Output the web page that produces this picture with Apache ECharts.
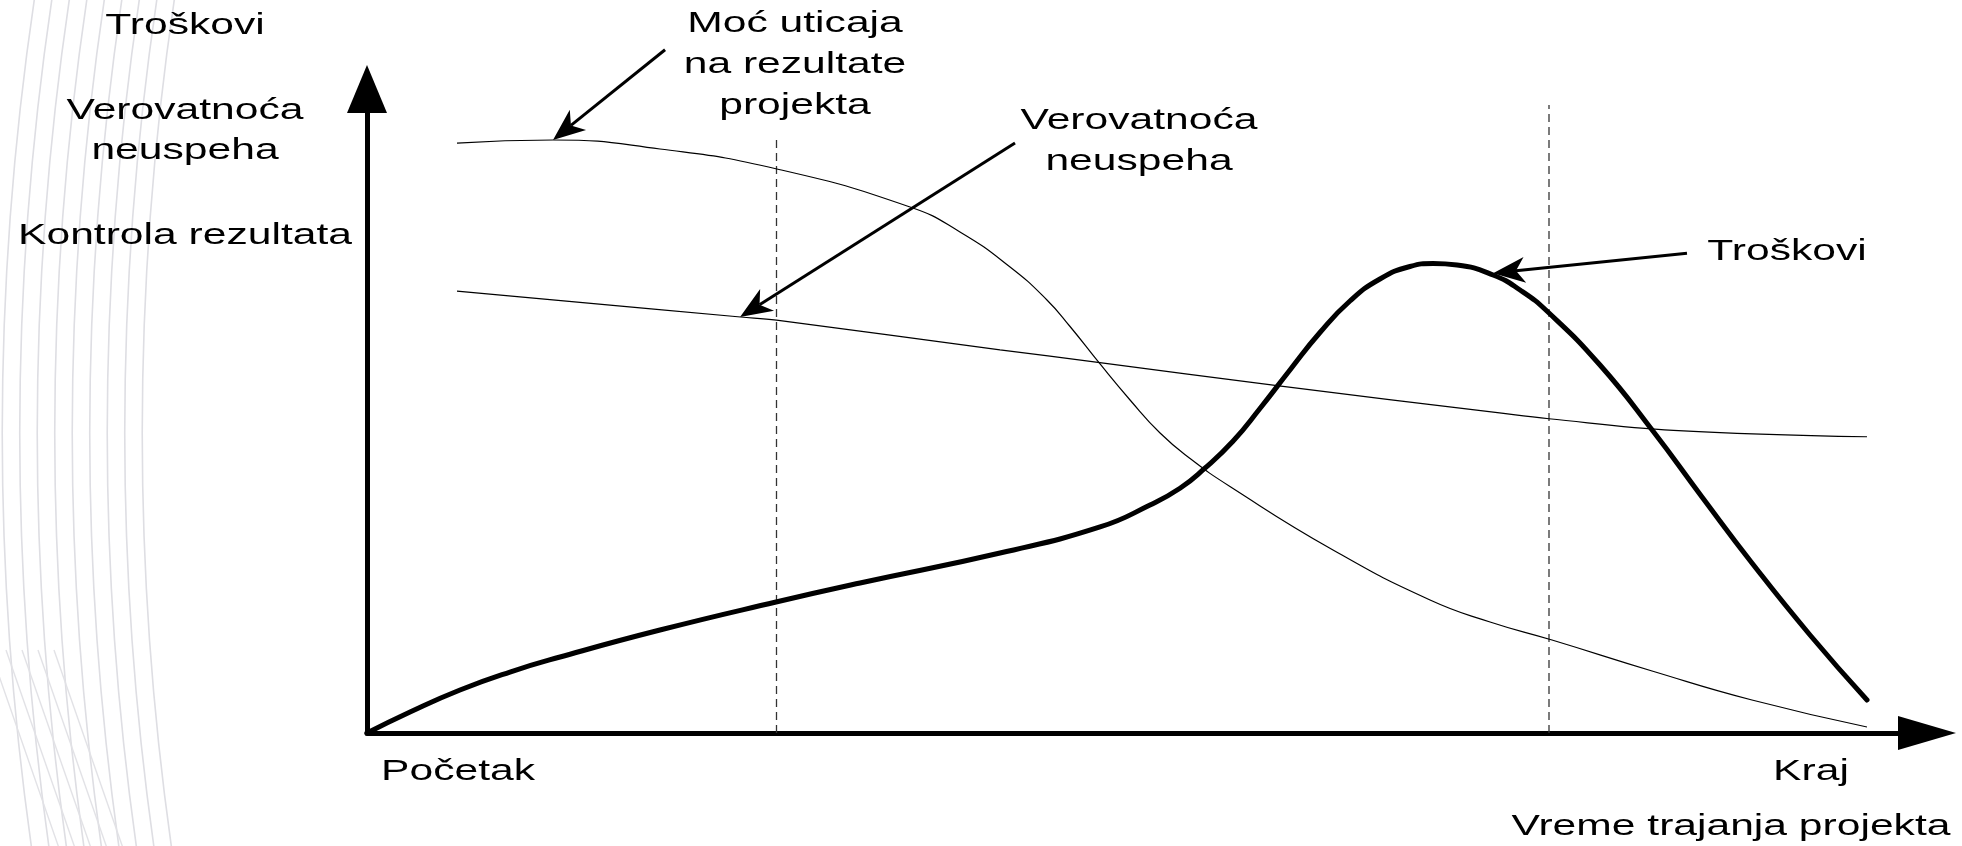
<!DOCTYPE html>
<html><head><meta charset="utf-8">
<script src="https://cdn.jsdelivr.net/npm/echarts@6/dist/echarts.min.js"></script>
<style>html,body{margin:0;padding:0;background:#fff}#c{width:1962px;height:846px}</style>
</head><body><div id="c"></div>
<script>
// x: project time (0 = Početak, 100 = Kraj); y: relative level (0..100)
const influenceX = [6.0, 12.4, 19.53, 27.33, 36.2, 39.53, 42.87, 45.33, 46.87, 48.87, 50.87, 52.87, 54.87, 57.53, 64.4, 70.87, 74.87, 79.0, 85.67, 92.33, 100];
const influenceY = [91.61, 92.08, 90.68, 87.58, 81.68, 77.8, 72.36, 67.24, 63.12, 57.3, 51.71, 46.58, 42.62, 38.28, 28.42, 20.65, 17.24, 14.44, 9.63, 5.12, 0.93];
const failureX = [6.0, 24.9, 27.3, 42.2, 48.6, 60.8, 75.5, 78.8, 87.1, 100];
const failureY = [68.6, 64.6, 64.1, 59.5, 57.6, 53.9, 49.7, 48.8, 47.0, 46.0];
const costX = [0, 2.87, 6.2, 9.53, 12.87, 19.53, 27.27, 32.87, 42.2, 48.87, 52.2, 54.2, 55.8, 57.73, 59.53, 61.53, 63.53, 65.53, 67.53, 69.53, 71.07, 72.67, 75.07, 76.87, 78.73, 82.2, 85.73, 89.0, 92.33, 96.2, 100];
const costY = [0, 3.26, 6.68, 9.47, 11.8, 15.99, 20.34, 23.29, 27.95, 31.99, 35.4, 38.0, 41.0, 45.3, 50.39, 56.37, 62.19, 67.08, 70.5, 72.44, 72.9, 72.67, 71.12, 68.79, 65.37, 57.14, 46.89, 36.65, 26.4, 15.22, 5.12];
const phaseX = [27.3, 78.8];
const phaseTop = [92.2, 97.5];
// annotation arrows: [start, tip] in data units
const arrowFrom = [[19.87, 106.1], [43.2, 91.6], [88.0, 74.5]];
const arrowTo = [[12.4, 92.1], [24.87, 64.6], [75.07, 71.4]];
const axisTitles = ['Troškovi', 'Verovatnoća', 'neuspeha', 'Kontrola rezultata'];
const noteInfluence = ['Moć uticaja', 'na rezultate', 'projekta'];
const noteFailure = ['Verovatnoća', 'neuspeha'];
const noteCost = ['Troškovi'];
const xLabels = ['Početak', 'Kraj', 'Vreme trajanja projekta'];

const zip = (a, b) => a.map((v, i) => [v, b[i]]);
const chart = echarts.init(document.getElementById('c'), null, {renderer: 'canvas'});
const FONT = "'Liberation Sans', Arial, sans-serif";

const phaseSeries = phaseX.map((x, i) => ({
  type: 'line', data: [[x, 0], [x, phaseTop[i]]], showSymbol: false, silent: true,
  lineStyle: {color: '#333', width: 1.3, type: [8, 5]}, z: 1
}));

chart.setOption({
  animation: false,
  backgroundColor: '#fff',
  grid: {left: 367, right: 35, top: 89, bottom: 113, containLabel: false},
  xAxis: {
    type: 'value', min: 0, max: 104,
    axisLine: {show: true, onZero: false, symbol: ['none', 'triangle'], symbolSize: [34, 58], lineStyle: {color: '#000', width: 5}},
    axisTick: {show: false}, axisLabel: {show: false}, splitLine: {show: false}
  },
  yAxis: {
    type: 'value', min: 0, max: 100,
    axisLine: {show: true, onZero: false, symbol: ['none', 'triangle'], symbolSize: [40, 48], lineStyle: {color: '#000', width: 5}},
    axisTick: {show: false}, axisLabel: {show: false}, splitLine: {show: false}
  },
  series: phaseSeries.concat([
    {type: 'line', name: 'Moć uticaja', data: zip(influenceX, influenceY), smooth: 0.5, showSymbol: false,
      lineStyle: {color: '#000', width: 1.2}, z: 2},
    {type: 'line', name: 'Verovatnoća neuspeha', data: zip(failureX, failureY), smooth: 0.4, showSymbol: false,
      lineStyle: {color: '#000', width: 1.2}, z: 2},
    {type: 'line', name: 'Troškovi', data: zip(costX, costY), smooth: 0.5, showSymbol: false,
      lineStyle: {color: '#000', width: 5, cap: 'round', join: 'round'}, z: 3}
  ])
});

function txt(text, x, y) {
  return {type: 'text', x: x, y: y, scaleX: 1.42, silent: true, z: 10,
    style: {text: text, fill: '#000', fontSize: 30, fontFamily: FONT, align: 'center', verticalAlign: 'middle',
      textAlign: 'center', textVerticalAlign: 'middle'}};
}
function arrow(from, to) {
  const p0 = chart.convertToPixel({gridIndex: 0}, from);
  const p1 = chart.convertToPixel({gridIndex: 0}, to);
  const dx = p1[0] - p0[0], dy = p1[1] - p0[1], len = Math.hypot(dx, dy);
  const ux = dx / len, uy = dy / len, nx = -uy, ny = ux;
  const L = 32, W = 26;
  const bx = p1[0] - ux * L, by = p1[1] - uy * L;
  const notch = [p1[0] - ux * L * 0.72, p1[1] - uy * L * 0.72];
  return [
    {type: 'line', silent: true, z: 9, shape: {x1: p0[0], y1: p0[1], x2: notch[0], y2: notch[1]}, style: {stroke: '#000', lineWidth: 3}},
    {type: 'polygon', silent: true, z: 9, shape: {points: [p1, [bx + nx * W / 2, by + ny * W / 2], notch, [bx - nx * W / 2, by - ny * W / 2]]}, style: {fill: '#000'}}
  ];
}

const graphics = [];
// decorative background arcs on the left edge
for (let i = 0; i < 9; i++) {
  const mx = 2 + i * 17.5;
  graphics.push({type: 'bezierCurve', silent: true, z: -10,
    shape: {x1: mx + 33, y1: -5, cpx1: mx - 31, cpy1: 423, x2: mx + 30, y2: 851},
    style: {stroke: '#dedee3', lineWidth: 1.6, fill: null}});
}
for (let i = 0; i < 5; i++) {
  graphics.push({type: 'line', silent: true, z: -10,
    shape: {x1: -10 + i * 16, y1: 650, x2: 60 + i * 16, y2: 851},
    style: {stroke: '#e2e2e6', lineWidth: 1.4}});
}
// left axis titles
[26, 111, 151, 236].forEach((y, i) => graphics.push(txt(axisTitles[i], 185, y)));
// notes
[24, 65, 106].forEach((y, i) => graphics.push(txt(noteInfluence[i], 795, y)));
[121, 162].forEach((y, i) => graphics.push(txt(noteFailure[i], 1139, y)));
graphics.push(txt(noteCost[0], 1787, 252));
// x axis labels
graphics.push(txt(xLabels[0], 458, 772));
graphics.push(txt(xLabels[1], 1811, 772));
graphics.push(txt(xLabels[2], 1731, 827));
arrowFrom.forEach((f, i) => graphics.push(...arrow(f, arrowTo[i])));

chart.setOption({graphic: graphics});
</script>
</body></html>
